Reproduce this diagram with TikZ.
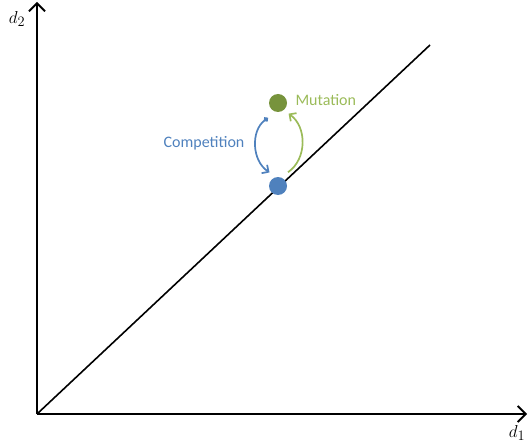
\documentclass[tikz,border=0pt]{standalone}
\usepackage{fontspec}
\usepackage{amsmath,amssymb}
\usepackage{xcolor}
\usetikzlibrary{arrows.meta}
\setsansfont{Carlito}

\definecolor{compblue}{RGB}{79,129,189}
\definecolor{mutgreen}{RGB}{155,187,89}
\definecolor{dotgreen}{RGB}{119,147,60}

\tikzset{
  axis/.style={line width=1.8pt,-{Straight Barb[length=8pt,width=16pt,line width=1.8pt]}},
  dot/.style={circle,inner sep=0pt,minimum size=18pt,outer sep=0pt},
  lbl/.style={font=\sffamily\fontsize{16}{19}\selectfont},
  turn/.style={line width=1.7pt}
}

\begin{document}
\begin{tikzpicture}[x=1pt,y=1pt]
\useasboundingbox (0,0) rectangle (529,445);
% axes
\coordinate (o) at (37,31);
\coordinate (xend) at (527,31);
\coordinate (yend) at (37,443);
\coordinate (diag) at (430,400);
\draw[axis] (o) -- (xend);
\draw[axis] (o) -- (yend);
\node[font=\fontsize{19}{22}\selectfont] (dx) at (517,12) {$d_1$};
\node[font=\fontsize{19}{22}\selectfont] (dy) at (17,426) {$d_2$};
% diagonal
\draw[line width=1.6pt] (o) -- (diag);
% the two points
\node[dot,fill=compblue] (res) at (278,259) {};
\node[dot,fill=dotgreen] (mut) at (278,342) {};
\coordinate (cs) at ([shift={(236:18)}]mut);
\coordinate (ce) at ([shift={(122:16)}]res);
\coordinate (ms) at ([shift={(54:17)}]res);
\coordinate (me) at ([shift={(-45:15)}]mut);
\draw[turn,compblue,{Circle[length=5pt]}-{Straight Barb[length=5pt,width=10pt]}] (cs) to[bend right=55] (ce);
\draw[turn,mutgreen,-{Straight Barb[length=5pt,width=10pt]}] (ms) to[bend right=55] (me);
% labels
\node[lbl,text=compblue] (comp) at (204,302) {Competition};
\node[lbl,text=mutgreen,anchor=west] (mutl) at (292,345) {Mutation};
\end{tikzpicture}
\end{document}
